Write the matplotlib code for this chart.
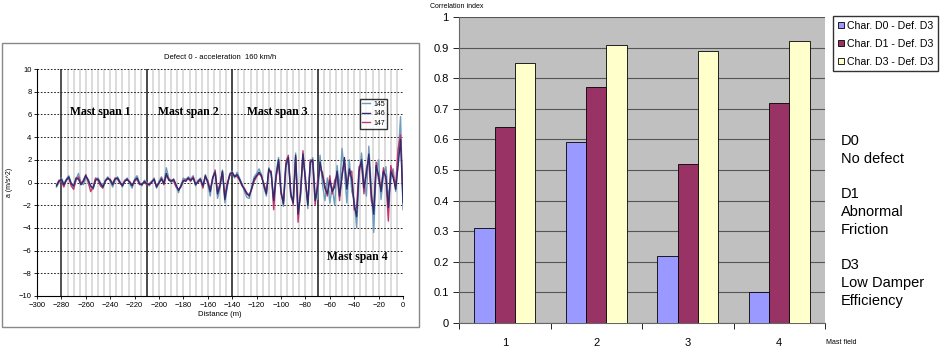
import numpy as np
import matplotlib
matplotlib.use("Agg")
import matplotlib.pyplot as plt
from matplotlib.patches import Rectangle

plt.rcParams["font.family"] = ["Liberation Sans", "DejaVu Sans"]

# ---- left panel data: acceleration, every 2 m ----
distance = np.arange(-284, 1, 2)
acc_145 = [-0.4, 0.0, 0.4, -0.1, 0.3, 0.6, 0.0, -0.5, 0.3, 0.8,
           0.0, -0.2, 0.4, 0.3, -0.4, -0.6, 0.3, 0.4, 0.0, -0.3,
           0.2, 0.5, 0.1, -0.4, 0.2, 0.5, 0.1, -0.4, 0.2, 0.4,
           -0.1, -0.5, 0.3, 0.6, 0.0, -0.3, 0.2, 0.0, -0.3, 0.1,
           0.4, -0.5, 0.1, 0.5, 0.0, 1.3, 0.4, 0.0, 0.2, -0.3,
           -0.9, -0.2, 0.4, 0.2, 0.5, 0.3, 0.6, -0.3, 0.2, 0.4,
           -0.4, 0.7, -0.2, -1.2, 0.5, 1.0, -1.4, -0.5, 1.1, -1.8,
           -0.4, 0.8, 1.0, 0.4, 0.9, 0.4, -0.1, -0.8, -1.3, -1.4,
           -0.4, 0.5, 0.8, 1.2, 0.7, -0.4, -1.2, 1.3, 0.6, -1.4,
           0.9, 2.2, -0.6, -2.1, 1.3, 2.0, -1.3, -1.6, 2.6, -2.4,
           -1.3, 2.2, 0.6, -2.3, 1.5, 2.2, -1.0, -1.5, 2.4, -0.2,
           -1.6, 0.4, -1.8, -0.4, -2.0, 1.5, -0.6, 3.0, 1.0, -1.8,
           2.0, -0.8, -1.5, -4.0, 0.5, 2.6, 0.2, -1.2, 3.2, -0.4,
           -4.4, 1.0, 2.0, -1.5, 0.6, 1.4, -1.4, 0.2, 1.2, -0.8,
           2.2, 5.8, -2.4]
acc_146 = [-0.3, 0.1, 0.3, -0.2, 0.2, 0.5, -0.1, -0.3, 0.4, 0.3,
           -0.2, 0.1, 0.6, 0.2, -0.3, -0.5, 0.2, 0.3, -0.1, -0.4,
           0.1, 0.4, 0.2, -0.2, 0.3, 0.4, 0.0, -0.3, 0.1, 0.3,
           0.0, -0.3, 0.2, 0.4, -0.1, -0.2, 0.1, -0.1, -0.2, 0.0,
           0.3, -0.4, 0.0, 0.3, -0.1, 0.8, 0.2, 0.1, 0.3, -0.2,
           -0.7, -0.3, 0.2, 0.1, 0.4, 0.2, 0.4, -0.2, 0.1, 0.3,
           -0.3, 0.6, 0.0, -0.8, 0.4, 0.9, -1.0, -0.3, 1.0, -1.5,
           -0.2, 0.7, 0.9, 0.5, 0.7, 0.3, -0.2, -0.6, -1.0, -1.2,
           -0.5, 0.3, 0.6, 0.9, 0.6, -0.3, -1.0, 1.2, 0.8, -1.6,
           0.6, 2.0, -0.8, -1.9, 1.5, 2.2, -1.0, -1.8, 2.4, -2.8,
           -1.0, 2.5, 0.2, -2.0, 1.8, 2.0, -1.6, -0.5, 1.8, 0.6,
           -0.5, -1.0, 0.2, -0.8, -0.4, 1.0, -1.2, 0.5, 2.2, -0.6,
           1.2, 0.3, -2.0, -3.0, 1.0, 2.0, -0.5, 0.8, 2.5, -1.0,
           -2.8, 1.5, 0.6, -0.8, 1.0, 0.5, -2.2, 1.0, 0.4, -0.6,
           1.5, 3.8, -1.8]
acc_147 = [-0.2, 0.2, 0.1, -0.4, 0.2, 0.4, -0.3, -0.6, 0.2, 0.5,
           -0.1, 0.2, 0.7, 0.0, -0.8, -0.4, 0.4, 0.2, -0.3, -0.5,
           0.2, 0.3, 0.3, -0.1, 0.4, 0.3, -0.1, -0.2, 0.2, 0.2,
           0.1, -0.2, 0.1, 0.3, -0.2, -0.1, 0.0, -0.2, -0.1, 0.1,
           0.2, -0.3, -0.1, 0.4, -0.2, 0.6, 0.3, 0.2, 0.1, -0.4,
           -0.6, -0.4, 0.1, 0.3, 0.3, 0.1, 0.5, -0.1, 0.0, 0.2,
           -0.5, 0.5, 0.2, -0.6, 0.3, 1.1, -0.8, -0.1, 0.9, -1.2,
           0.0, 0.6, 0.8, 0.6, 0.5, 0.2, -0.3, -0.5, -0.9, -1.1,
           -0.6, 0.1, 0.5, 0.8, 0.5, -0.1, -0.8, 1.0, 1.0, -2.4,
           0.4, 1.8, -1.0, -1.7, 1.8, 2.4, -0.8, -2.0, 2.2, -3.5,
           -0.8, 2.8, 0.0, -1.8, 2.0, 1.8, -2.0, 0.2, 1.2, 0.9,
           -0.3, -1.2, 0.6, -1.0, 0.2, 0.6, -1.6, 0.8, 1.8, -0.2,
           0.8, 1.0, -2.4, -2.2, 1.4, 1.6, -1.0, 1.2, 2.0, -1.6,
           -2.2, 1.8, 0.2, -0.5, 1.3, 0.2, -3.4, 1.5, 0.6, -0.2,
           3.0, 4.2, -1.2]
span_edges = [-280, -210, -140, -70]
span_labels = ["Mast span 1", "Mast span 2", "Mast span 3", "Mast span 4"]

# ---- right panel data ----
mast_field = ["1", "2", "3", "4"]
corr_d0 = [0.31, 0.59, 0.22, 0.10]
corr_d1 = [0.64, 0.77, 0.52, 0.72]
corr_d3 = [0.85, 0.91, 0.89, 0.92]
bar_names = ["Char. D0 - Def. D3", "Char. D1 - Def. D3", "Char. D3 - Def. D3"]

fig = plt.figure(figsize=(9.43, 3.49), dpi=100)
fig.patches.append(Rectangle((2/943, 1-327/349), 417/943, 284/349,
                             transform=fig.transFigure, fill=False,
                             edgecolor="#888888", lw=1.0))

# left plot
ax1 = fig.add_axes([37/943, 1-296/349, 366/943, 227/349])
for xv in np.arange(-275, 0, 5):
    ax1.axvline(xv, color="#dcdcdc", lw=1.4, zorder=0)
for yv in range(-8, 11, 2):
    ax1.axhline(yv, color="black", lw=0.6, ls=(0, (2, 2)), zorder=0.5)
for xv in span_edges:
    ax1.axvline(xv, color="#222222", lw=1.1, zorder=1)
ax1.plot(distance, acc_145, color="#6f9cbc", lw=1.0, label="145", zorder=2)
ax1.plot(distance, acc_147, color="#c4366e", lw=1.0, label="147", zorder=2)
ax1.plot(distance, acc_146, color="#2c2c6e", lw=1.0, label="146", zorder=3)
h, l = ax1.get_legend_handles_labels()
ax1.legend([h[0], h[2], h[1]], ["145", "146", "147"], loc="upper right",
           bbox_to_anchor=(0.965, 0.885), fontsize=5, handlelength=1.2,
           frameon=True, fancybox=False, edgecolor="black",
           borderpad=0.3, labelspacing=0.35, handletextpad=0.4)
ax1.text(-273, 6.2, span_labels[0], family="Liberation Serif",
         weight="bold", fontsize=8.5, va="center")
ax1.text(-201, 6.2, span_labels[1], family="Liberation Serif",
         weight="bold", fontsize=8.5, va="center")
ax1.text(-128, 6.2, span_labels[2], family="Liberation Serif",
         weight="bold", fontsize=8.5, va="center")
ax1.text(-62, -6.6, span_labels[3], family="Liberation Serif",
         weight="bold", fontsize=8.5, va="center")
ax1.set_xlim(-300, 0)
ax1.set_ylim(-10, 10)
ax1.set_xticks(range(-300, 1, 20))
ax1.set_yticks(range(-10, 11, 2))
ax1.tick_params(labelsize=5.5, length=2, width=0.6, pad=2)
for s in ["top", "right"]:
    ax1.spines[s].set_visible(False)
ax1.spines["left"].set_linewidth(0.8)
ax1.spines["bottom"].set_linewidth(0.8)
ax1.set_title("Defect 0 - acceleration  160 km/h", fontsize=5.5, pad=7)
ax1.set_xlabel("Distance (m)", fontsize=5.5, labelpad=2)
ax1.set_ylabel("a (m/s^2)", fontsize=5, labelpad=4)

# right plot
ax2 = fig.add_axes([459/943, 1-323/349, 366/943, 306/349])
ax2.set_facecolor("#c0c0c0")
x = np.arange(len(mast_field))
w = 0.224
ax2.bar(x - w, corr_d0, w, color="#9999ff", edgecolor="black", lw=0.6,
        label=bar_names[0], zorder=3)
ax2.bar(x, corr_d1, w, color="#993366", edgecolor="black", lw=0.6,
        label=bar_names[1], zorder=3)
ax2.bar(x + w, corr_d3, w, color="#ffffcc", edgecolor="black", lw=0.6,
        label=bar_names[2], zorder=3)
ax2.set_xlim(-0.5, 3.5)
ax2.set_ylim(0, 1)
ax2.set_yticks(np.arange(0, 1.01, 0.1))
ax2.set_yticklabels(["0", "0.1", "0.2", "0.3", "0.4", "0.5", "0.6",
                     "0.7", "0.8", "0.9", "1"])
ax2.set_xticks(x)
ax2.set_xticklabels(mast_field)
ax2.set_xticks(np.arange(-0.5, 3.6, 1), minor=True)
ax2.tick_params(axis="x", which="major", length=0, labelsize=8, pad=11)
ax2.tick_params(axis="x", which="minor", length=4, width=0.6)
ax2.tick_params(axis="y", labelsize=8, length=4, width=0.6)
ax2.yaxis.grid(True, color="#555555", lw=0.8)
ax2.set_axisbelow(True)
for s in ["top", "right"]:
    ax2.spines[s].set_visible(False)
ax2.spines["left"].set_color("#666666")
ax2.spines["bottom"].set_color("#666666")
fig.text(430/943, 1-7/349, "Correlation index", fontsize=5, va="center")
fig.text(826/943, 1-343/349, "Mast field", fontsize=5, va="center")
ax2.legend(loc="upper left", bbox_to_anchor=(833/943, 1-16/349),
           bbox_transform=fig.transFigure, fontsize=7.6, frameon=True,
           fancybox=False, edgecolor="black", handlelength=0.6,
           handleheight=0.6, handletextpad=0.3, borderpad=0.45,
           labelspacing=0.75, borderaxespad=0)
fig.text(841/943, 1-134/349,
         "D0\nNo defect\n\nD1\nAbnormal\nFriction\n\nD3\nLow Damper\nEfficiency",
         fontsize=10.5, va="top", linespacing=1.34)

fig.savefig("out.png", dpi=100)
